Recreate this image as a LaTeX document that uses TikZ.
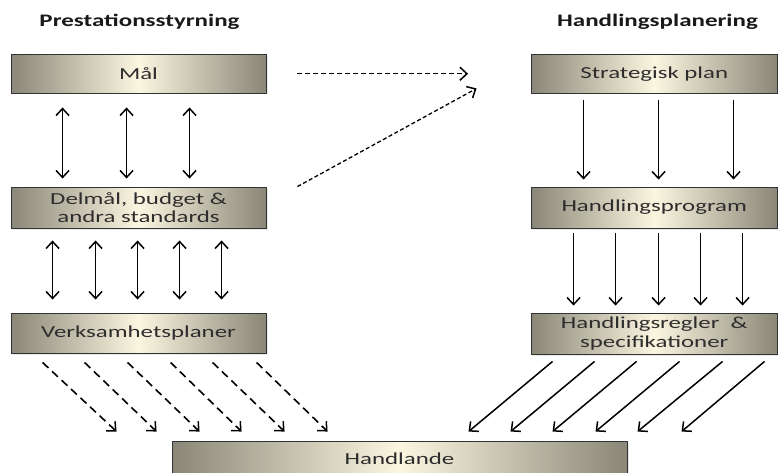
\documentclass[tikz,border=0pt]{standalone}
\usepackage{fontspec}
\setmainfont{Carlito}
\newfontfamily\boxfont{Carlito}[FakeStretch=1.48]
\newfontfamily\titlefont{Carlito}[FakeStretch=1.42]
\usetikzlibrary{calc,arrows.meta,shadows}
\definecolor{boxdark}{RGB}{138,135,120}
\definecolor{boxlight}{RGB}{251,246,224}
\definecolor{txt}{RGB}{45,45,45}
\begin{document}
\begin{tikzpicture}[x=1pt,y=-1pt,
  box/.style={draw=black!80, line width=0.9pt, left color=boxdark, right color=boxdark, middle color=boxlight,
    minimum height=38.5pt, inner sep=0pt, align=center, text=txt,
    font=\boxfont\fontsize{16.8}{19.5}\selectfont,
    drop shadow={opacity=0.18, shadow xshift=1.5pt, shadow yshift=-1.5pt}},
  lbox/.style={box, minimum width=255pt},
  rbox/.style={box, minimum width=245.5pt},
  ttl/.style={font=\titlefont\bfseries\fontsize{17.6}{20}\selectfont, text=black!90, inner sep=0pt},
  tip/.style={-{Straight Barb[length=7pt,width=13pt,line width=1.5pt]}},
  dbl/.style={{Straight Barb[length=7pt,width=13pt,line width=1.5pt]}-{Straight Barb[length=7pt,width=13pt,line width=1.5pt]}, line width=1.5pt},
  sol/.style={tip, line width=1.5pt},
  dsh/.style={tip, line width=1.6pt, dash pattern=on 8pt off 5pt},
  fdsh/.style={tip, line width=1.3pt, dash pattern=on 5pt off 3pt},
  ddsh/.style={tip, line width=1.3pt, dash pattern=on 4pt off 2.5pt}]
\useasboundingbox (0,0) rectangle (778,473);
\fill[white] (0,0) rectangle (778,473);

\node[ttl] (t1) at (139.5,22) {Prestationsstyrning};
\node[ttl] (t2) at (657.5,22) {Handlingsplanering};

\node[lbox] (mal) at (138.5,73.75) {Mål};
\node[lbox, minimum height=41pt] (delmal) at (138.5,207.5) {Delmål, budget \&\\[-1pt]andra standards};
\node[lbox, minimum height=40pt] (verk) at (138.5,333) {Verksamhetsplaner};

\node[rbox] (strat) at (654.25,73.75) {Strategisk plan};
\node[rbox, minimum height=41pt] (hprog) at (654.25,207.5) {Handlingsprogram};
\node[rbox, minimum height=41pt] (hregl) at (654.25,333.5) {Handlingsregler \ \&\\[-1pt]specifikationer};

\node[box, minimum width=455pt, minimum height=36pt] (handl) at (399.5,459) {\raisebox{-0.5pt}{Handlande}};

% Mål <-> Delmål
\foreach \dx in {52,116,179}
  \draw[dbl] ($(mal.south west)+(\dx,14)$) -- ($(delmal.north west)+(\dx,-8)$);
% Delmål <-> Verksamhetsplaner
\foreach \dx in {42,85,127,169,211}
  \draw[dbl] ($(delmal.south west)+(\dx,12)$) -- ($(verk.north west)+(\dx,-13)$);
% Strategisk plan -> Handlingsprogram
\foreach \dx in {52.5,127.5,202.5}
  \draw[sol] ($(strat.south west)+(\dx,7)$) -- ($(hprog.north west)+(\dx,-7)$);
% Handlingsprogram -> Handlingsregler
\foreach \dx in {42.5,84.5,127.5,169.5,211.5}
  \draw[sol] ($(hprog.south west)+(\dx,5)$) -- ($(hregl.north west)+(\dx,-7)$);
% Verksamhetsplaner -> Handlande (dashed)
\foreach \a/\b in {32/-55,74/-15,117/28,160/70,202/113,246/156}
  \draw[dsh] ($(verk.south west)+(\a,9)$) -- ($(handl.north west)+(\b,-9)$);
% Handlingsregler -> Handlande
\foreach \a/\b in {21.5/297,63.5/339,105.5/381,148.5/424,191.5/466,233.5/510}
  \draw[sol] ($(hregl.south west)+(\a,7)$) -- ($(handl.north west)+(\b,-9)$);
% Mål -> Strategisk plan
\draw[fdsh] ($(mal.east)+(31,0)$) -- ($(strat.west)+(-63,0)$);
% Delmål -> Strategisk plan
\draw[ddsh] ($(delmal.north east)+(31,0)$) -- ($(strat.south west)+(-54.5,-5)$);
\end{tikzpicture}
\end{document}
